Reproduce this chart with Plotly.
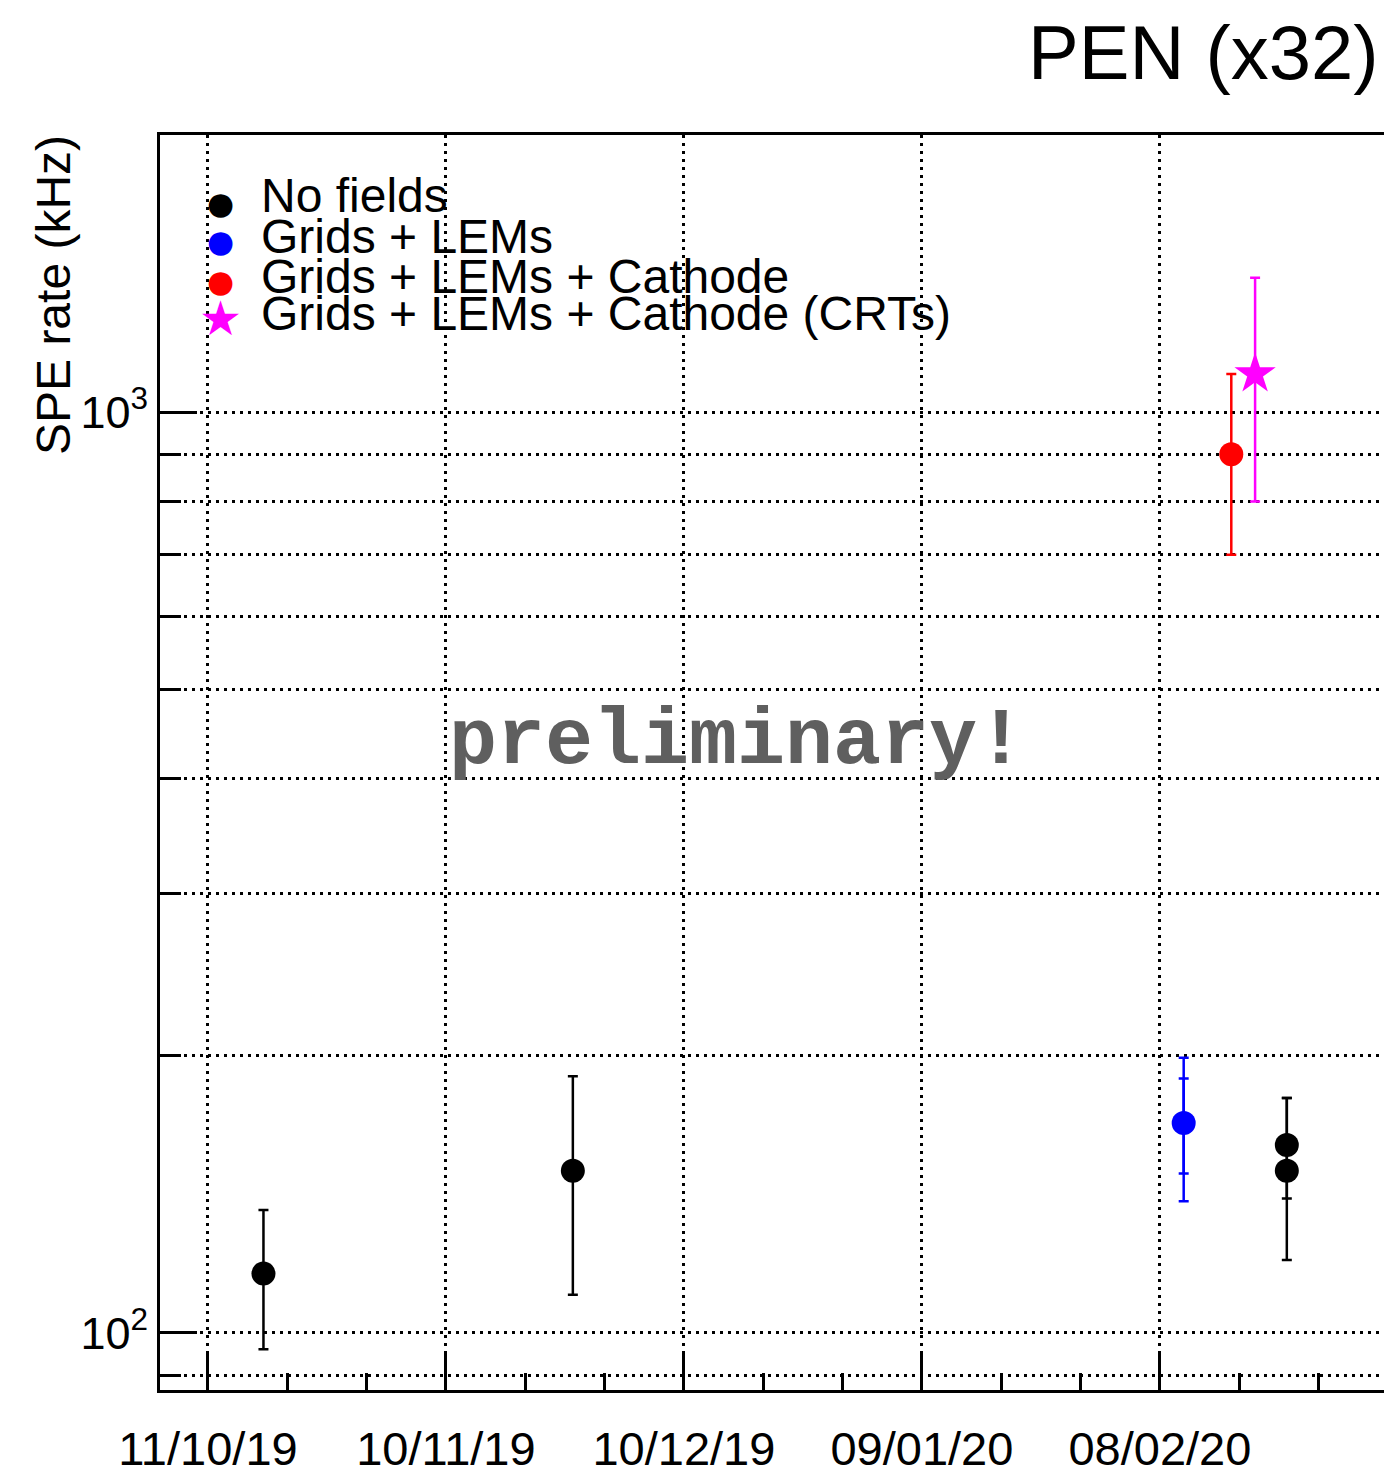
import math
import plotly.graph_objects as go

# ---------------- data ----------------
nf_dates = ["2019-10-18", "2019-11-26", "2020-02-24", "2020-02-24"]
nf_rate = [116, 150, 160, 150]
nf_err = [20, 40, 20, 30]

gl_dates = ["2020-02-11"]
gl_rate = [169]
gl_err_stat = [20]
gl_err_tot = [30]

glc_dates = ["2020-02-17"]
glc_rate = [900]
glc_err = [200]

crt_dates = ["2020-02-20"]
crt_rate = [1100]
crt_err = [300]

legend_labels = ["No fields", "Grids + LEMs", "Grids + LEMs + Cathode",
                 "Grids + LEMs + Cathode (CRTs)"]
legend_glyphs = ["\u25CF", "\u25CF", "\u25CF", "\u2605"]
series_colors = ["#000000", "#0000ff", "#ff0000", "#ff00ff"]

x_tickvals = ["2019-10-11", "2019-11-10", "2019-12-10", "2020-01-09", "2020-02-08"]
x_ticktext = ["11/10/19", "10/11/19", "10/12/19", "09/01/20", "08/02/20"]
y_major = [100, 1000]
y_major_text = ["10<sup>2</sup>", "10<sup>3</sup>"]
y_minor = [90, 200, 300, 400, 500, 600, 700, 800, 900, 2000]

title_text = "PEN (x32)"
ytitle_text = "SPE rate (kHz)"
watermark = "preliminary!"

# ---------------- layout geometry ----------------
W, H = 1384, 1476
ML, MR, MT, MB = 160, 0, 135, 86
PW, PH = W - ML - MR, H - MT - MB


def px_x(px):
    return (px - ML) / PW


def px_y(py):
    return (H - MB - py) / PH


FONT = "Liberation Sans, Arial, Helvetica, sans-serif"
GRID_DASH = "3px,5px"

fig = go.Figure()

err_common = dict(type="data", symmetric=True, thickness=2.5, width=5)

fig.add_trace(go.Scatter(
    x=nf_dates, y=nf_rate, mode="markers",
    marker=dict(symbol="circle", size=24, color=series_colors[0]),
    error_y=dict(array=nf_err, color=series_colors[0], **err_common),
    name=legend_labels[0]))

fig.add_trace(go.Scatter(
    x=gl_dates, y=gl_rate, mode="markers",
    marker=dict(symbol="circle", size=24, color=series_colors[1], opacity=0),
    error_y=dict(array=gl_err_tot, color=series_colors[1], **err_common),
    name=legend_labels[1] + " (total)"))
fig.add_trace(go.Scatter(
    x=gl_dates, y=gl_rate, mode="markers",
    marker=dict(symbol="circle", size=24, color=series_colors[1]),
    error_y=dict(array=gl_err_stat, color=series_colors[1], **err_common),
    name=legend_labels[1]))

fig.add_trace(go.Scatter(
    x=glc_dates, y=glc_rate, mode="markers",
    marker=dict(symbol="circle", size=24, color=series_colors[2]),
    error_y=dict(array=glc_err, color=series_colors[2], **err_common),
    name=legend_labels[2]))

fig.add_trace(go.Scatter(
    x=crt_dates, y=crt_rate, mode="markers",
    marker=dict(symbol="star", size=31, color=series_colors[3]),
    error_y=dict(array=crt_err, color=series_colors[3], **err_common),
    name=legend_labels[3]))

fig.update_layout(
    width=W, height=H,
    margin=dict(l=ML, r=MR, t=MT, b=MB, pad=0, autoexpand=False),
    paper_bgcolor="white", plot_bgcolor="white",
    showlegend=False,
    font=dict(family=FONT, color="black"),
)

fig.update_xaxes(
    type="date", automargin=False,
    range=["2019-10-04 23:00", "2020-03-07 06:00"],
    tickmode="array", tickvals=x_tickvals, ticktext=x_ticktext,
    ticks="inside", ticklen=38, tickwidth=2.5, tickcolor="black",
    tickfont=dict(size=47, family=FONT, color="black"),
    ticklabelstandoff=16,
    showline=True, linewidth=3, linecolor="black", mirror=True,
    showgrid=True, gridcolor="black", gridwidth=2.5, griddash=GRID_DASH,
    zeroline=False,
    minor=dict(tick0="2019-10-11", dtick=864000000, ticks="inside",
               ticklen=17, tickwidth=2.5, tickcolor="black", showgrid=False),
)

fig.update_yaxes(
    type="log", automargin=False,
    range=[math.log10(86.7), math.log10(2000)],
    tickmode="array", tickvals=y_major, ticktext=y_major_text,
    ticks="inside", ticklen=37, tickwidth=2.5, tickcolor="black",
    tickfont=dict(size=45, family=FONT, color="black"),
    showline=True, linewidth=3, linecolor="black", mirror=False,
    showgrid=True, gridcolor="black", gridwidth=2.5, griddash=GRID_DASH,
    zeroline=False,
    minor=dict(tickvals=y_minor, ticks="inside", ticklen=21, tickwidth=2.5,
               tickcolor="black", showgrid=True, gridcolor="black",
               gridwidth=2.5, griddash=GRID_DASH),
)

# white box behind the watermark (hides the grid)
fig.add_shape(type="rect", xref="paper", yref="paper",
              x0=px_x(413), x1=px_x(1067), y0=px_y(792), y1=px_y(681),
              fillcolor="white", line=dict(width=0), layer="below")

fig.add_annotation(xref="paper", yref="paper", x=px_x(737), y=px_y(741),
                   text="<b>" + watermark + "</b>", showarrow=False,
                   xanchor="center", yanchor="middle",
                   font=dict(family="Liberation Mono, Courier New, monospace",
                             size=80, color="#5f5f5f"))

# title
fig.add_annotation(xref="paper", yref="paper", x=px_x(1381), y=px_y(52),
                   text=title_text, showarrow=False,
                   xanchor="right", yanchor="middle",
                   font=dict(family=FONT, size=76, color="black"))

# y-axis title
fig.add_annotation(xref="paper", yref="paper", x=0, xshift=53 - ML,
                   y=px_y(295), text=ytitle_text, textangle=-90,
                   showarrow=False, xanchor="center", yanchor="middle",
                   font=dict(family=FONT, size=48, color="black"))

# legend
text_rows = [196, 237, 276, 314]
glyph_rows = [203, 241, 281, 318]
for lab, glyph, col, ty, gy in zip(legend_labels, legend_glyphs, series_colors,
                                   text_rows, glyph_rows):
    fig.add_annotation(xref="paper", yref="paper", x=px_x(259), y=px_y(ty),
                       text=lab, showarrow=False, xanchor="left",
                       yanchor="middle",
                       font=dict(family=FONT, size=48, color="black"))
    is_circle = glyph == "\u25CF"
    fig.add_annotation(xref="paper", yref="paper", x=px_x(220), y=px_y(gy),
                       text=glyph, showarrow=False, xanchor="center",
                       yanchor="middle",
                       font=dict(family="DejaVu Sans", size=31 if is_circle else 48,
                                 color=col))

fig.write_html("out.html")
